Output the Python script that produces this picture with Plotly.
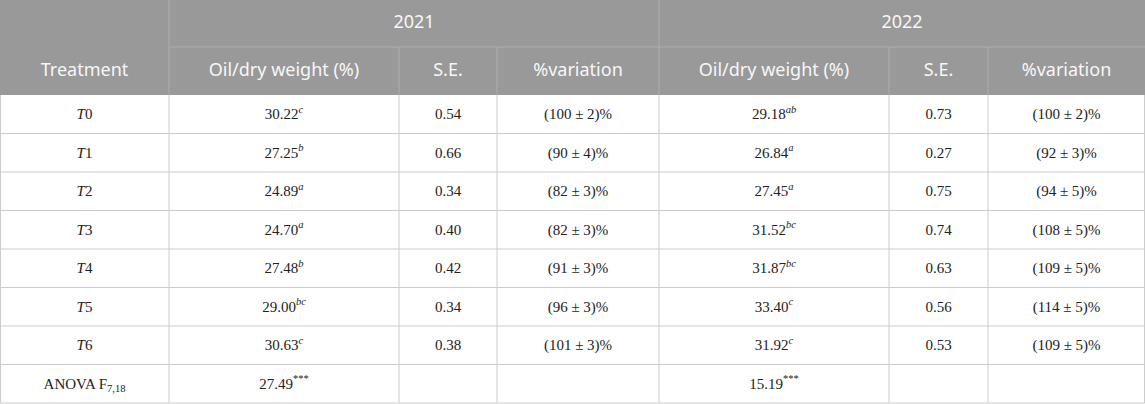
import plotly.graph_objects as go

# ---------------------------------------------------------------------------
# -- Table data
years = ["2021", "2022"]
columns = ["Oil/dry weight (%)", "S.E.", "%variation"]
treatments = ["T0", "T1", "T2", "T3", "T4", "T5", "T6"]

oil_2021 = [30.22, 27.25, 24.89, 24.70, 27.48, 29.00, 30.63]
letters_2021 = ["c", "b", "a", "a", "b", "bc", "c"]
se_2021 = [0.54, 0.66, 0.34, 0.40, 0.42, 0.34, 0.38]
var_2021 = [100, 90, 82, 82, 91, 96, 101]
var_err_2021 = [2, 4, 3, 3, 3, 3, 3]

oil_2022 = [29.18, 26.84, 27.45, 31.52, 31.87, 33.40, 31.92]
letters_2022 = ["ab", "a", "a", "bc", "bc", "c", "c"]
se_2022 = [0.73, 0.27, 0.75, 0.74, 0.63, 0.56, 0.53]
var_2022 = [100, 92, 94, 108, 109, 114, 109]
var_err_2022 = [2, 3, 5, 5, 5, 5, 5]

anova_label = "ANOVA F<sub>7,18</sub>"
anova_f = [27.49, 15.19]

# ---------------------------------------------------------------------------
# -- Layout geometry (pixels)
W, H = 1145, 404
col_widths = [169, 230, 98, 162, 230, 99, 157]
head_rows = [47, 48]
body_row_h = 38.5

col_edges = [0]
for w in col_widths:
    col_edges.append(col_edges[-1] + w)
col_mid = [(a + b) / 2 for a, b in zip(col_edges[:-1], col_edges[1:])]

head_top = 0
head_mid = head_rows[0]
head_bot = head_rows[0] + head_rows[1]
n_body = len(treatments) + 1
row_edges = [head_bot + i * body_row_h for i in range(n_body + 1)]
row_mid = [(a + b) / 2 + 1 for a, b in zip(row_edges[:-1], row_edges[1:])]

HEAD_BG = "#999999"
HEAD_LINE = "#adadad"
HEAD_TXT = "#f7f7f7"
GRID = "#cccccc"

shapes = []
# header background
shapes.append(dict(type="rect", x0=0, x1=W, y0=head_top, y1=head_bot,
                   fillcolor=HEAD_BG, line=dict(width=0), layer="below"))
# header lines
shapes.append(dict(type="line", x0=col_edges[1], x1=W, y0=head_mid, y1=head_mid,
                   line=dict(color=HEAD_LINE, width=1)))
for i in (1, 4):
    shapes.append(dict(type="line", x0=col_edges[i], x1=col_edges[i], y0=head_top, y1=head_bot,
                       line=dict(color=HEAD_LINE, width=1)))
for i in (2, 3, 5, 6):
    shapes.append(dict(type="line", x0=col_edges[i], x1=col_edges[i], y0=head_mid, y1=head_bot,
                       line=dict(color=HEAD_LINE, width=1)))
# body grid
for y in row_edges[1:]:
    yy = min(y, H - 1)
    shapes.append(dict(type="line", x0=0, x1=W, y0=yy, y1=yy, line=dict(color=GRID, width=1)))
for x in col_edges:
    xx = min(max(x, 0.5), W - 0.5)
    shapes.append(dict(type="line", x0=xx, x1=xx, y0=head_bot, y1=min(row_edges[-1], H - 1),
                       line=dict(color=GRID, width=1)))

# ---------------------------------------------------------------------------
# -- Header text
hx, hy, ht = [], [], []
hx.append(col_mid[0]); hy.append(head_bot - head_rows[1] / 2); ht.append("Treatment")
hx.append((col_edges[1] + col_edges[4]) / 2); hy.append(head_mid / 2); ht.append(years[0])
hx.append((col_edges[4] + col_edges[7]) / 2); hy.append(head_mid / 2); ht.append(years[1])
for k, name in enumerate(columns):
    for base in (1, 4):
        hx.append(col_mid[base + k]); hy.append(head_bot - head_rows[1] / 2); ht.append(name)

# -- Body text
bx, by, bt = [], [], []
for r, t in enumerate(treatments):
    y = row_mid[r]
    cells = [
        f"<i>{t[0]}</i>{t[1:]}",
        f"{oil_2021[r]:.2f}<sup><i>{letters_2021[r]}</i></sup>",
        f"{se_2021[r]:.2f}",
        f"({var_2021[r]} ± {var_err_2021[r]})%",
        f"{oil_2022[r]:.2f}<sup><i>{letters_2022[r]}</i></sup>",
        f"{se_2022[r]:.2f}",
        f"({var_2022[r]} ± {var_err_2022[r]})%",
    ]
    for c, txt in enumerate(cells):
        bx.append(col_mid[c]); by.append(y); bt.append(txt)
y = row_mid[-1]
bx += [col_mid[0], col_mid[1], col_mid[4]]
by += [y, y, y]
bt += [anova_label, f"{anova_f[0]:.2f}<sup>***</sup>", f"{anova_f[1]:.2f}<sup>***</sup>"]

fig = go.Figure()
fig.add_trace(go.Scatter(x=hx, y=hy, text=ht, mode="text", hoverinfo="skip",
                         textfont=dict(family="Noto Sans", size=18, color=HEAD_TXT)))
fig.add_trace(go.Scatter(x=bx, y=by, text=bt, mode="text", hoverinfo="skip",
                         textfont=dict(family="Liberation Serif", size=15, color="#222222")))

fig.update_layout(
    width=W, height=H,
    margin=dict(l=0, r=0, t=0, b=0),
    paper_bgcolor="white", plot_bgcolor="white",
    showlegend=False,
    shapes=shapes,
    xaxis=dict(range=[0, W], visible=False, fixedrange=True),
    yaxis=dict(range=[H, 0], visible=False, fixedrange=True),
)

fig.write_html("out.html", config={"displayModeBar": False},
               post_script="document.body.style.margin='0';")
